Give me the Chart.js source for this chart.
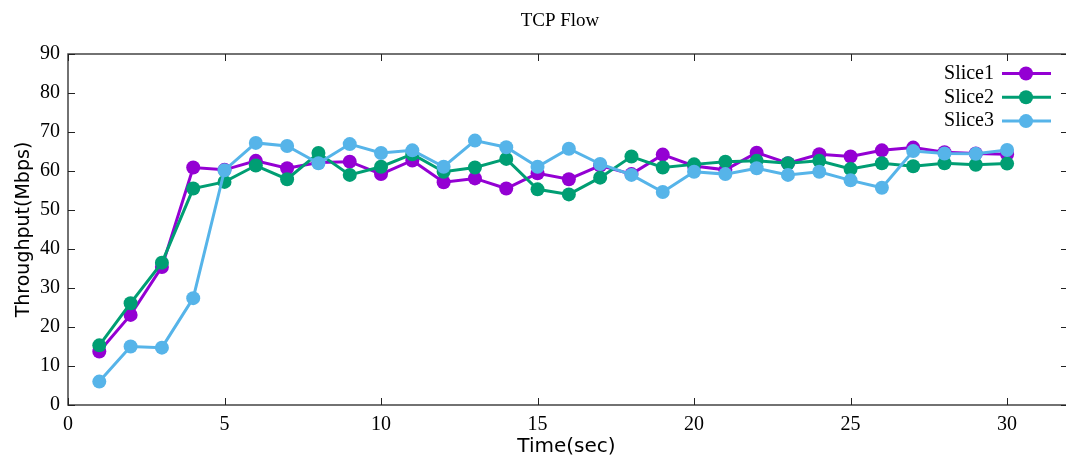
<!DOCTYPE html>
<html>
<head>
<meta charset="utf-8">
<script src="https://cdn.jsdelivr.net/npm/chart.js@4.4.1/dist/chart.umd.min.js"></script>
<style>
  html, body { margin: 0; padding: 0; background: #fff; overflow: hidden; }
  #wrap { width: 1066px; height: 456px; }
  canvas { display: block; }
</style>
</head>
<body>
<div id="wrap"><canvas id="tcpChart"></canvas></div>
<script>
// data
const timeSec = [1,2,3,4,5,6,7,8,9,10,11,12,13,14,15,16,17,18,19,20,21,22,23,24,25,26,27,28,29,30];
const slice1 = [13.7,23.1,35.4,60.9,60.3,62.6,60.7,62.2,62.4,59.2,62.7,57.1,58.1,55.5,59.4,57.9,61.4,59.2,64.2,61.3,60.3,64.7,62.0,64.3,63.7,65.3,66.0,64.8,64.5,64.3];
const slice2 = [15.3,26.1,36.5,55.5,57.2,61.4,57.9,64.6,59.0,61.1,64.3,59.8,60.9,63.1,55.3,54.0,58.3,63.7,60.9,61.7,62.4,62.6,62.0,62.6,60.5,62.0,61.2,62.0,61.6,61.9];
const slice3 = [6.0,15.0,14.7,27.4,60.2,67.2,66.4,62.0,66.9,64.6,65.3,61.1,67.8,66.1,61.1,65.7,61.8,59.0,54.6,59.8,59.2,60.7,59.0,59.8,57.6,55.7,65.1,64.5,64.4,65.4];
const xTicks = [0, 5, 10, 15, 20, 25, 30];
const seriesNames = ['Slice1', 'Slice2', 'Slice3'];
const seriesColors = ['#9400d3', '#009e73', '#56b4e9'];
const chartTitle = 'TCP Flow';

const serif = "'Liberation Serif', 'DejaVu Serif', serif";
const sans = "'DejaVu Sans', 'Liberation Sans', sans-serif";

function toPoints(vals) {
  return vals.map((v, i) => ({ x: timeSec[i], y: v }));
}

function makeDataset(idx, vals) {
  return {
    label: seriesNames[idx],
    data: toPoints(vals),
    borderColor: seriesColors[idx],
    backgroundColor: seriesColors[idx],
    borderWidth: 3,
    pointRadius: 7,
    pointBorderWidth: 0,
    pointHoverRadius: 7,
    tension: 0,
    order: 3 - idx // later slices on top, as in the original
  };
}

// frame with inward ticks, gnuplot style
// (the original is cropped just before its right border, so no right line here)
const framePlugin = {
  id: 'frame',
  beforeDatasetsDraw(chart) {
    const { ctx, chartArea: a, scales } = chart;
    ctx.save();
    ctx.strokeStyle = '#444';
    ctx.lineWidth = 1.5;
    ctx.beginPath();
    ctx.moveTo(chart.width, a.top);
    ctx.lineTo(a.left, a.top);
    ctx.lineTo(a.left, a.bottom);
    ctx.lineTo(chart.width, a.bottom);
    ctx.stroke();
    ctx.lineWidth = 1;
    ctx.strokeStyle = '#222';
    ctx.beginPath();
    scales.x.ticks.forEach(t => {
      const px = Math.round(scales.x.getPixelForValue(t.value)) + 0.5;
      ctx.moveTo(px, a.bottom); ctx.lineTo(px, a.bottom - 7);
      ctx.moveTo(px, a.top); ctx.lineTo(px, a.top + 7);
    });
    scales.y.ticks.forEach(t => {
      const py = Math.round(scales.y.getPixelForValue(t.value)) + 0.5;
      ctx.moveTo(a.left, py); ctx.lineTo(a.left + 7, py);
      ctx.moveTo(a.right + 1, py); ctx.lineTo(a.right - 4, py);
    });
    ctx.stroke();
    // title, centred a little right of the page middle like the original
    ctx.fillStyle = '#000';
    ctx.font = '19px ' + serif;
    ctx.textAlign = 'center';
    ctx.textBaseline = 'middle';
    ctx.fillText(chartTitle, 560, 21);
    ctx.restore();
  }
};

// legend inside the top right corner: label first, then sample line
const keyPlugin = {
  id: 'key',
  afterDatasetsDraw(chart) {
    const { ctx, chartArea: a } = chart;
    ctx.save();
    ctx.font = '20px ' + serif;
    ctx.textAlign = 'right';
    ctx.textBaseline = 'middle';
    seriesNames.forEach((name, i) => {
      const y = a.top + 19.5 + i * 23.8;
      ctx.fillStyle = '#000';
      ctx.fillText(name, a.right - 71, y);
      ctx.strokeStyle = seriesColors[i];
      ctx.lineWidth = 3;
      ctx.beginPath();
      ctx.moveTo(a.right - 63, y);
      ctx.lineTo(a.right - 14, y);
      ctx.stroke();
      ctx.fillStyle = seriesColors[i];
      ctx.beginPath();
      ctx.arc(a.right - 39, y, 7, 0, Math.PI * 2);
      ctx.fill();
    });
    ctx.restore();
  }
};

new Chart(document.getElementById('tcpChart'), {
  type: 'line',
  data: {
    datasets: [makeDataset(0, slice1), makeDataset(1, slice2), makeDataset(2, slice3)]
  },
  options: {
    responsive: true,
    maintainAspectRatio: false,
    animation: false,
    layout: { autoPadding: false, padding: { left: 0, right: 1, top: 54, bottom: 0 } },
    scales: {
      x: {
        type: 'linear',
        min: 0,
        max: 31.85,
        afterBuildTicks: s => { s.ticks = xTicks.map(v => ({ value: v })); },
        afterFit: s => { s.height = 51; s.paddingRight = 0; },
        ticks: { stepSize: 5, color: '#000', font: { family: serif, size: 20 }, padding: 8, maxRotation: 0 },
        grid: { display: false, drawTicks: false },
        border: { display: false },
        title: { display: true, text: 'Time(sec)', color: '#000', font: { family: sans, size: 20 }, padding: { top: 0, bottom: -3 } }
      },
      y: {
        min: 0,
        max: 90,
        afterFit: s => { s.width = 68; },
        ticks: { stepSize: 10, color: '#000', font: { family: serif, size: 20 }, padding: 8 },
        grid: { display: false, drawTicks: false },
        border: { display: false },
        title: { display: true, text: 'Throughput(Mbps)', color: '#000', font: { family: sans, size: 19 }, padding: { top: 13, bottom: 0 } }
      }
    },
    plugins: {
      legend: { display: false },
      tooltip: { enabled: false },
      title: { display: false }
    }
  },
  plugins: [framePlugin, keyPlugin]
});
</script>
</body>
</html>
